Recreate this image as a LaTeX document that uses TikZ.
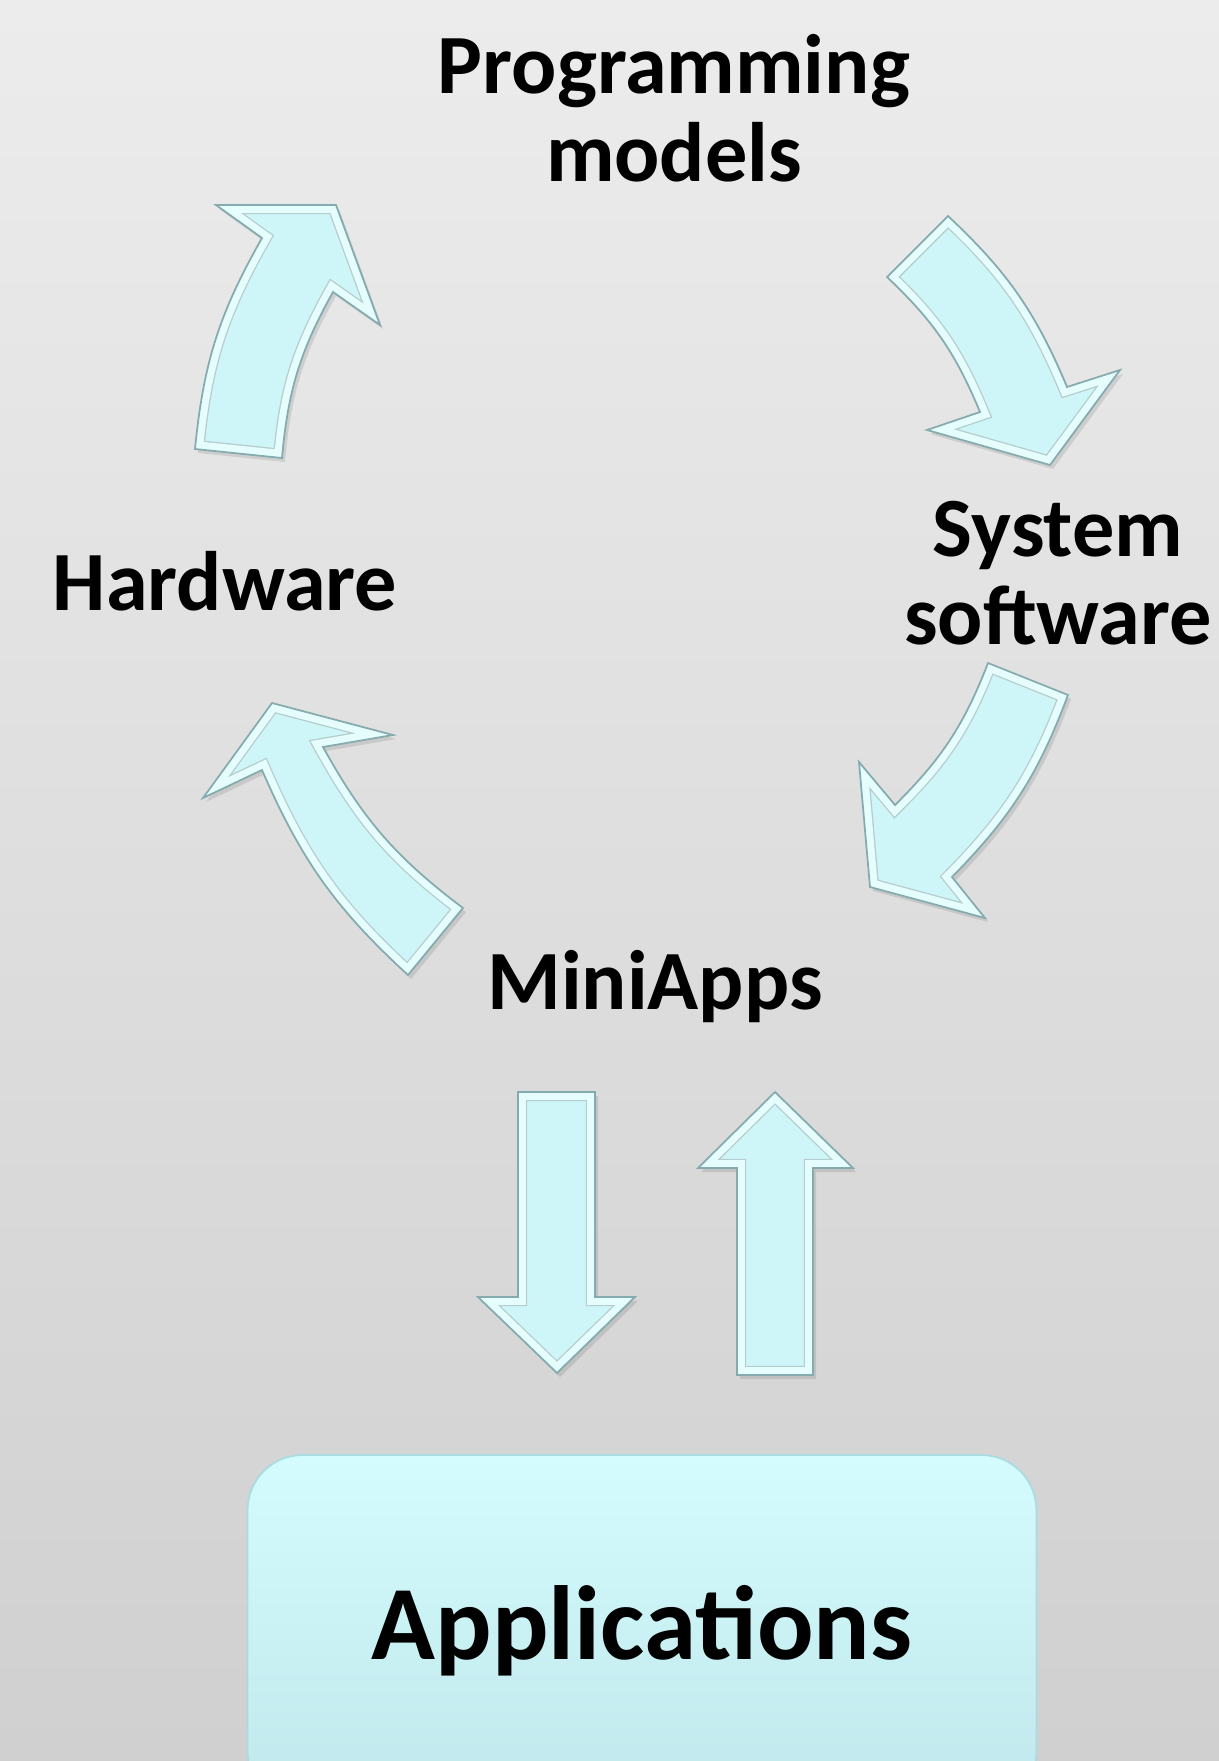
\documentclass[tikz,border=0pt]{standalone}
\usepackage{fontspec}
\setmainfont{Carlito}
\usepackage{tikz}
\usetikzlibrary{calc}
\definecolor{bgtop}{HTML}{ECECEC}
\definecolor{bgbot}{HTML}{D0D0D0}
\definecolor{arrowbody}{HTML}{CEF6F9}
\definecolor{arrowrim}{HTML}{E6FDFE}
\definecolor{arrowline}{HTML}{86ABAE}
\definecolor{appstop}{HTML}{D4FCFE}
\definecolor{appsbot}{HTML}{C0E8EC}
\definecolor{appsline}{HTML}{A9DCE0}

\newcommand{\blockarrow}[1]{%
  \fill[black,opacity=0.10,shift={(3,4)}] #1;
  \fill[arrowbody] #1;
  \begin{scope}
    \clip #1;
    \draw[arrowline!60,line width=10.5pt,line join=miter] #1;
    \draw[arrowrim,line width=9pt,line join=miter] #1;
  \end{scope}
  \draw[arrowline,line width=1pt,line join=miter] #1;}

\begin{document}
\begin{tikzpicture}[
  x=0.02cm, y=-0.02cm,
  label/.style={font=\fontsize{48}{50}\selectfont\bfseries,align=center,inner sep=0pt},
  appbox/.style={draw=appsline,line width=1pt,top color=appstop,bottom color=appsbot,
    rounded corners=1.1cm,minimum width=15.78cm,minimum height=7.04cm,
    font=\fontsize{60}{60}\selectfont\bfseries}
]
\useasboundingbox (0,0) rectangle (1219,1761);
\clip (0,0) rectangle (1219,1761);
\shade[top color=bgtop,bottom color=bgbot] (0,0) rectangle (1219,1761);

\node[label] (prog) at (674,108) {Programming\\models};
\node[label] (sys) at (1058,573) {System\\software};
\node[label,anchor=base] (hw) at (225,610) {Hardware};
\node[label,anchor=base] (mini) at (655,1009) {MiniApps};
\node[appbox] (apps) at (642,1631) {Applications};

\blockarrow{(195,449) to[bend left=12] (262,238) -- (216,205) -- (336,205)
  -- (380,325) -- (333,292) to[bend right=12] (282,458) -- cycle}
\blockarrow{(948,216) to[bend left=12] (1067,387) -- (1120,370) -- (1050,465)
  -- (927,430) -- (980,412) to[bend right=12] (887,277) -- cycle}
\blockarrow{(1068,695) to[bend left=12] (952,877) -- (985,918) -- (870,887)
  -- (859,762) -- (895,805) to[bend right=12] (988,663) -- cycle}
\blockarrow{(408,975) to[bend left=12] (262,770) -- (203,798) -- (272,703)
  -- (393,735) -- (323,747) to[bend right=12] (463,908) -- cycle}

\blockarrow{(518,1092) -- (595,1092) -- (595,1297) -- (635,1297) -- (557,1373)
  -- (478,1297) -- (518,1297) -- cycle}
\blockarrow{(737,1375) -- (813,1375) -- (813,1168) -- (853,1168) -- (775,1092)
  -- (698,1168) -- (737,1168) -- cycle}
\end{tikzpicture}
\end{document}
